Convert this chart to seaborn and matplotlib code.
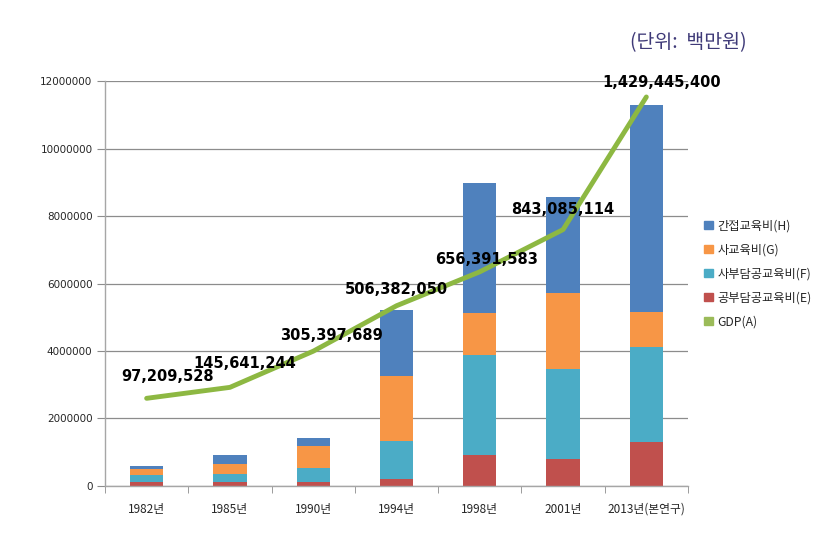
import numpy as np
import pandas as pd
import seaborn as sns
import matplotlib.pyplot as plt
from matplotlib.patches import Patch

years = ['1982년', '1985년', '1990년', '1994년', '1998년', '2001년', '2013년(본연구)']
public_E = [127000, 127000, 127000, 198000, 909000, 790000, 1294000]
private_F = [198000, 237000, 415000, 1126000, 2963000, 2686000, 2815000]
shadow_G = [187000, 296000, 652000, 1946000, 1254000, 2242000, 1037000]
indirect_H = [89000, 267000, 217000, 1935000, 3842000, 2844000, 6130000]
gdp = [97209528, 145641244, 305397689, 506382050, 656391583, 843085114, 1429445400]
gdp_labels = ['97,209,528', '145,641,244', '305,397,689', '506,382,050',
              '656,391,583', '843,085,114', '1,429,445,400']
series_names = ['간접교육비(H)', '사교육비(G)', '사부담공교육비(F)', '공부담공교육비(E)', 'GDP(A)']

c_blue, c_orange, c_teal, c_red, c_green = '#4F81BD', '#F79646', '#4BACC6', '#C0504D', '#9BBB59'

sns.set_style('white')
plt.rcParams['font.family'] = ['Noto Sans CJK KR', 'DejaVu Sans']

df = pd.DataFrame({'year': years, 'E': public_E, 'F': private_F, 'G': shadow_G, 'H': indirect_H})
df['cE'] = df['E']
df['cF'] = df['cE'] + df['F']
df['cG'] = df['cF'] + df['G']
df['cH'] = df['cG'] + df['H']

fig = plt.figure(figsize=(8.3, 5.34), dpi=100)
ax = fig.add_axes([0.1265, 0.0899, 0.7024, 0.7584])

# stacked bars drawn as cumulative layers, top layer first
for col, color in [('cH', c_blue), ('cG', c_orange), ('cF', c_teal), ('cE', c_red)]:
    sns.barplot(data=df, x='year', y=col, color=color, width=0.4, ax=ax,
                saturation=1, order=years, zorder=2, edgecolor='none', linewidth=0)

ax.set_xlim(-0.5, 6.5)
ax.set_ylim(0, 12000000)
ax.set_yticks(np.arange(0, 12000001, 2000000))
ax.set_yticklabels([str(v) for v in range(0, 12000001, 2000000)], fontsize=7.5,
                   family='DejaVu Sans')
ax.yaxis.grid(True, color='#8c8c8c', linewidth=0.9, zorder=0)
ax.set_axisbelow(True)
ax.set_xlabel('')
ax.set_ylabel('')
ax.tick_params(axis='x', length=0, pad=12, labelsize=8.5)
ax.set_xticks(np.arange(-0.5, 7, 1), minor=True)
ax.tick_params(axis='x', which='minor', length=5, color='#8c8c8c', direction='out', bottom=True)
ax.tick_params(axis='y', length=6, color='#8c8c8c', direction='out', left=True, pad=3)
for s in ['top', 'right']:
    ax.spines[s].set_visible(False)
for s in ['left', 'bottom']:
    ax.spines[s].set_color('#a6a6a6')
    ax.spines[s].set_linewidth(1.0)

# GDP on a hidden secondary scale
ax2 = ax.twinx()
sns.lineplot(x=np.arange(len(years)), y=gdp, color='#8DB842', linewidth=3.5, ax=ax2,
             solid_capstyle='round', zorder=5)
ax2.set_ylim(-2.904e8, 1.5e9)
ax2.set_xlim(-0.5, 6.5)
ax2.axis('off')

offsets = [(21, 22), (15, 24), (18, 16), (0, 16), (7, 12), (0, 20), (15, 14)]
for i, (lab, off) in enumerate(zip(gdp_labels, offsets)):
    ax2.annotate(lab, (i, gdp[i]), xytext=off, textcoords='offset pixels',
                 ha='center', va='center', fontsize=10.5, fontweight='bold',
                 family='DejaVu Sans', color='black', zorder=6)

fig.text(0.829, 0.921, '(단위:  백만원)', ha='center', va='center', fontsize=14,
         color='#3f3a78')

handles = [Patch(color=c_blue), Patch(color=c_orange), Patch(color=c_teal),
           Patch(color=c_red), Patch(color=c_green)]
fig.legend(handles, series_names, loc='center left', bbox_to_anchor=(0.835, 0.487),
           frameon=False, fontsize=8.8, handlelength=0.7, handleheight=0.7,
           handletextpad=0.4, labelspacing=0.9)

fig.savefig('out.png', dpi=100)
